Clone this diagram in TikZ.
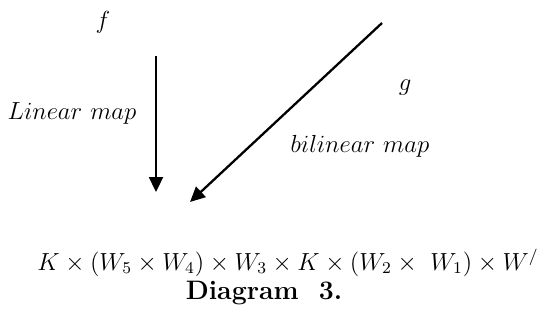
\documentclass[tikz,border=0pt]{standalone}
\usetikzlibrary{arrows.meta}
\begin{document}
\begin{tikzpicture}[
  x=0.5pt, y=-0.5pt, font=\large,
  every node/.style={inner sep=0pt, anchor=base, scale=1.03},
  mapping/.style={-{Triangle[length=7.5pt,width=7pt]}, line width=1.15pt}]
\useasboundingbox (0,0) rectangle (544,321);
\node (f) at (103,28) {$f$};
\node (g) at (405,90) {$g$};
\node (linlabel) at (72,119) {$Linear\ map$};
\node (bilinlabel) at (360,152) {$bilinear\ map$};
\coordinate (lintop) at (156,56);
\coordinate (linend) at (156,192);
\coordinate (bilintop) at (382,23);
\coordinate (bilinend) at (190,202);
\draw[mapping] (lintop) -- (linend);
\draw[mapping] (bilintop) -- (bilinend);
\node (prod) at (288,270)
  {$K\times(W_5\times W_4)\times W_3\times K\times(W_2\times\ W_1)\times W^{/}$};
\node[font=\Large\bfseries, scale=0.9] (caption) at (264,299)
  {Diagram\ \ 3.};
\end{tikzpicture}
\end{document}
